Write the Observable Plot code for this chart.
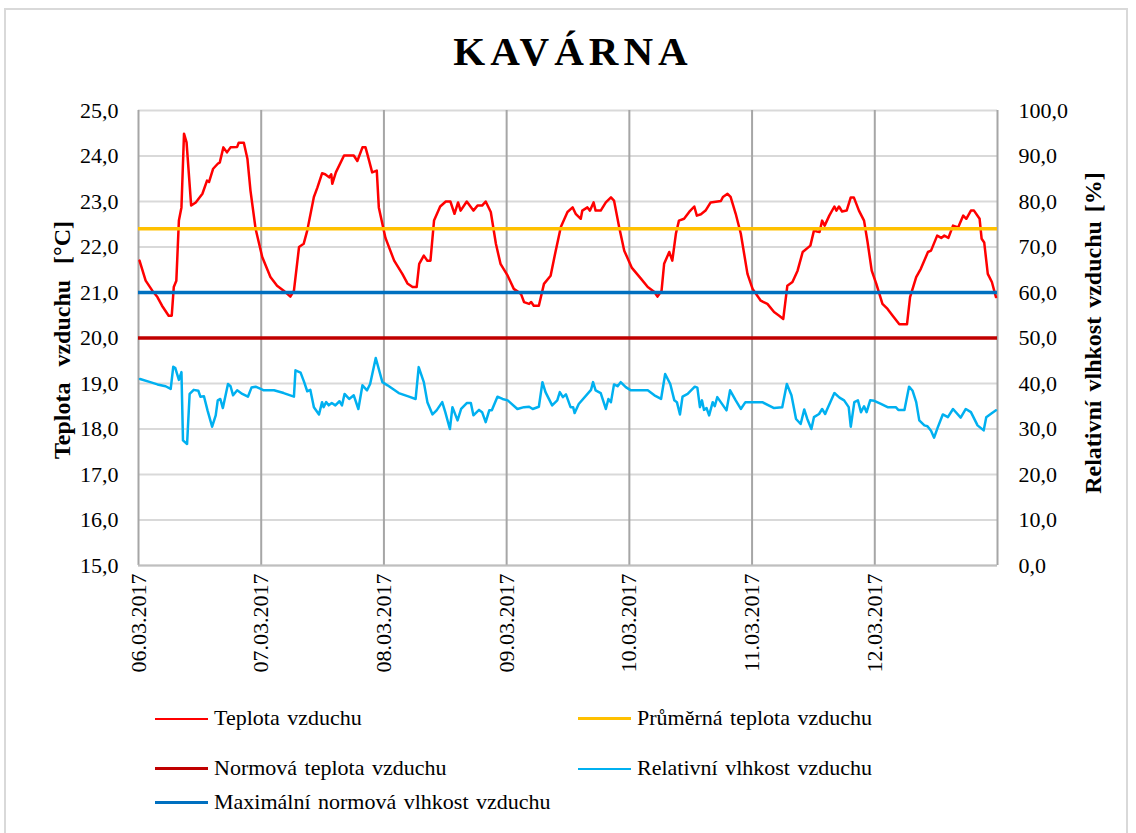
<!DOCTYPE html>
<html>
<head>
<meta charset="utf-8">
<script src="https://cdn.jsdelivr.net/npm/d3@7"></script>
<script src="https://cdn.jsdelivr.net/npm/@observablehq/plot@0.6"></script>
<style>
  html, body { margin: 0; padding: 0; background: #fff; }
  #wrap { position: relative; width: 1136px; height: 833px; overflow: hidden; font-family: "Liberation Serif", "Times New Roman", serif; }
  #border { position: absolute; left: 4px; top: 8px; width: 1124px; height: 900px; border: 2px solid #d9d9d9; box-sizing: border-box; }
  #title { position: absolute; left: 5px; width: 1136px; top: 27px; text-align: center; font-weight: bold; font-size: 41px; letter-spacing: 5px; color: #000; }
  #chart { position: absolute; left: 0; top: 90px; }
  .ytitle { position: absolute; font-weight: bold; font-size: 24px; white-space: nowrap; color: #000; transform: translate(-50%, -50%) rotate(-90deg); }
  .leg { position: absolute; font-size: 22px; word-spacing: 2px; color: #000; white-space: nowrap; }
  .leg span.sw { display: inline-block; width: 53px; height: 0; border-top: 3px solid; vertical-align: middle; margin-right: 6px; position: relative; top: -1px; }
</style>
</head>
<body>
<div id="wrap">
  <div id="border"></div>
  <div id="title">KAVÁRNA</div>
  <div id="chart"></div>
  <div class="ytitle" style="left:62px; top:340px; word-spacing:10px;">Teplota vzduchu [°C]</div>
  <div class="ytitle" style="left:1093px; top:333px; word-spacing:3px;">Relativní vlhkost vzduchu [%]</div>
  <div id="legend"></div>
</div>
<script>
// ---- data ----
const startDate = Date.UTC(2017, 2, 6);
const dayLabels = ["06.03.2017","07.03.2017","08.03.2017","09.03.2017","10.03.2017","11.03.2017","12.03.2017"];
const tempTicks = [15,16,17,18,19,20,21,22,23,24,25];
const rhTicks = [0,10,20,30,40,50,60,70,80,90,100];

const avgTemp = 22.4;
const normTemp = 20.0;
const maxRH = 60;

const tempHours = [0.2,1.4,2.7,3.7,4.6,5.9,6.5,6.9,7.4,7.9,8.4,8.9,9.4,10.3,11.2,12.5,13.4,13.8,14.6,15.5,15.9,16.6,17.3,18.0,19.3,19.6,20.6,21.3,21.9,22.9,24.2,25.8,27.1,28.4,29.7,30.4,31.4,32.3,33.0,34.3,35.0,35.9,36.5,37.3,37.7,37.9,38.6,40.2,42.1,42.8,43.8,44.4,45.1,45.7,46.6,47.0,48.3,50.0,51.6,52.6,53.6,54.4,54.9,55.8,56.5,57.1,57.8,59.0,60.1,61.0,61.8,62.5,63.0,64.2,65.5,66.3,67.2,67.9,68.9,69.9,70.8,72.2,73.4,74.8,75.4,76.4,76.8,77.3,78.3,79.3,80.6,81.6,82.6,83.9,84.9,85.5,86.5,86.8,87.8,88.3,89.0,89.4,90.4,91.4,92.4,93.0,94.0,95.0,96.5,98.3,99.6,100.9,101.5,102.3,102.8,103.8,104.4,105.1,105.7,106.7,107.7,108.7,109.2,110.0,110.9,111.9,113.9,114.3,115.2,115.8,116.8,117.8,119.1,120.1,121.7,123.0,124.3,125.3,126.1,126.9,127.9,128.9,129.9,131.4,132.1,132.7,133.2,133.7,134.2,135.1,136.1,136.5,137.0,137.6,138.5,139.3,139.9,140.9,141.9,142.6,143.4,144.3,145.5,146.5,147.5,148.8,150.3,150.9,152.1,153.0,154.4,155.0,156.2,157.0,157.6,158.4,159.3,160.3,161.3,161.9,162.8,163.4,164.5,164.9,165.4,166.1,166.9,167.7];
const tempValues = [21.70,21.26,21.04,20.90,20.71,20.49,20.49,21.12,21.26,22.58,22.87,24.49,24.30,22.91,22.98,23.17,23.46,23.43,23.72,23.83,23.86,24.19,24.08,24.19,24.20,24.29,24.29,23.94,23.24,22.40,21.78,21.34,21.15,21.04,20.91,21.04,22.00,22.07,22.36,23.10,23.31,23.62,23.60,23.53,23.60,23.39,23.64,24.01,24.01,23.89,24.19,24.19,23.90,23.64,23.68,22.87,22.20,21.70,21.41,21.20,21.12,21.12,21.63,21.81,21.70,21.70,22.58,22.89,23.00,23.00,22.73,22.98,22.80,23.00,22.80,22.91,22.91,23.00,22.77,22.07,21.63,21.37,21.08,20.97,20.79,20.75,20.79,20.71,20.71,21.19,21.37,21.92,22.44,22.77,22.87,22.73,22.62,22.80,22.87,22.80,22.98,22.80,22.80,22.98,23.09,23.02,22.44,21.92,21.54,21.30,21.12,21.01,20.91,21.04,21.63,21.89,21.70,22.29,22.58,22.62,22.77,22.89,22.69,22.72,22.80,22.98,23.01,23.10,23.17,23.10,22.73,22.29,21.41,21.08,20.82,20.75,20.57,20.49,20.42,21.15,21.23,21.48,21.89,22.03,22.36,22.34,22.33,22.58,22.47,22.69,22.89,22.80,22.89,22.78,22.80,23.09,23.09,22.80,22.58,22.10,21.48,21.19,20.75,20.64,20.49,20.30,20.30,20.90,21.34,21.52,21.89,21.92,22.25,22.20,22.25,22.20,22.47,22.43,22.69,22.62,22.80,22.80,22.62,22.18,22.10,21.41,21.23,20.90];

const rhHours = [0.3,2.3,3.7,5.3,6.3,6.8,7.2,7.9,8.4,8.7,9.5,10.0,10.8,11.7,12.1,12.8,13.5,14.4,15.1,15.5,16.0,16.5,17.5,18.0,18.5,19.3,20.3,21.4,22.1,22.9,23.9,24.5,26.5,28.4,30.4,30.7,31.7,32.4,33.0,33.6,34.3,35.3,35.9,36.2,36.7,37.2,37.8,38.5,39.3,39.8,40.3,41.2,42.1,43.0,43.8,44.7,45.3,46.4,47.7,48.7,50.9,52.9,54.2,54.8,55.8,56.5,57.5,58.3,59.4,60.0,60.9,61.4,62.4,63.1,64.2,65.0,65.5,66.6,67.2,67.9,68.6,69.1,70.2,71.2,72.2,74.1,75.4,76.4,77.1,78.3,79.0,79.6,80.9,81.9,82.4,83.0,83.6,84.5,85.0,85.3,86.1,88.5,88.9,89.4,90.4,91.4,91.9,92.4,93.0,93.7,94.3,95.3,96.3,99.6,100.9,102.2,103.0,104.0,104.8,105.3,105.9,106.4,107.4,108.8,109.3,109.8,110.2,110.6,111.1,111.6,112.3,112.7,113.2,115.0,115.7,116.8,117.8,118.7,122.0,124.3,125.9,126.8,127.7,128.6,129.5,130.2,130.8,131.6,132.1,133.1,133.7,134.3,134.6,136.1,137.1,138.0,138.9,139.3,140.0,140.7,141.3,141.9,142.4,143.1,143.9,145.2,146.5,148.1,148.6,149.8,150.7,151.4,152.1,152.7,153.7,154.3,155.0,155.6,156.3,157.3,158.3,159.3,160.8,161.8,162.8,164.1,165.3,165.8,166.8,167.7];
const rhValues = [41.0,40.3,39.8,39.4,38.8,43.7,43.4,40.8,42.5,27.5,26.7,37.7,38.6,38.4,37.1,37.2,34.1,30.5,33.0,36.3,36.6,34.6,39.9,39.4,37.4,38.5,37.7,37.1,39.1,39.3,38.8,38.5,38.5,37.9,37.1,42.9,42.4,40.3,38.3,38.6,34.8,33.2,35.9,34.8,35.9,35.2,35.7,35.2,36.1,35.2,37.7,36.6,37.4,34.4,39.6,38.5,39.9,45.6,40.3,39.6,37.9,37.1,36.6,43.6,40.3,35.9,33.2,34.1,35.9,33.7,30.0,34.8,31.9,34.4,35.7,35.7,33.0,34.2,33.7,31.5,34.1,34.1,37.1,36.6,36.3,34.4,34.8,34.9,34.4,34.9,40.3,38.1,35.2,36.3,38.1,37.0,37.6,34.8,34.8,33.5,35.5,38.6,40.3,38.5,37.9,34.4,36.6,35.9,39.8,39.4,40.3,39.2,38.5,38.5,37.4,36.6,42.1,39.9,36.3,35.9,33.2,37.1,37.7,39.3,39.1,34.8,36.3,34.2,34.6,33.0,35.9,35.0,37.0,34.1,38.5,36.3,34.4,35.9,35.9,34.6,34.8,39.9,37.4,32.2,31.1,34.3,32.2,30.0,32.6,33.3,34.4,33.3,34.1,37.9,36.9,36.3,34.8,30.5,35.9,36.3,33.7,35.0,33.7,36.3,36.2,35.5,34.8,34.8,34.2,34.2,39.3,38.4,35.9,31.9,30.8,30.6,29.6,28.1,30.3,33.2,32.6,34.4,32.5,34.4,33.7,30.8,29.7,32.6,33.4,34.1];

// ---- helpers ----
const HOUR = 3600 * 1000;
const toDate = h => new Date(startDate + h * HOUR);
const fmt = v => v.toFixed(1).replace(".", ",");
// right axis (RH %) mapped onto left scale (°C): 0% -> 15, 100% -> 25
const rhToT = rh => 15 + rh / 10;

const tempData = tempHours.map((h, i) => ({date: toDate(h), v: tempValues[i]}));
const rhData = rhHours.map((h, i) => ({date: toDate(h), v: rhToT(rhValues[i])}));
const dayDates = d3.range(0, 8).map(d => toDate(d * 24));
const tickDates = dayDates.slice(0, 7);

const colors = {
  temp: "#ff0000",
  avg: "#ffc000",
  norm: "#c00000",
  rh: "#00b0f0",
  maxrh: "#0070c0"
};

const chart = Plot.plot({
  width: 1136,
  height: 600,
  marginLeft: 138,
  marginRight: 139,
  marginTop: 20,
  marginBottom: 125,
  style: {fontFamily: "'Liberation Serif', 'Times New Roman', serif", fontSize: "22px", color: "#000", background: "transparent"},
  x: {type: "utc", domain: [dayDates[0], dayDates[7]]},
  y: {domain: [15, 25]},
  marks: [
    Plot.ruleY(tempTicks, {stroke: "#d9d9d9", strokeWidth: 2}),
    Plot.ruleX(dayDates, {stroke: "#a6a6a6", strokeWidth: 2}),
    Plot.ruleY([15], {stroke: "#bfbfbf", strokeWidth: 2}),
    Plot.axisY({anchor: "left", ticks: tempTicks, tickFormat: fmt, tickSize: 0, tickPadding: 20, label: null, fontSize: 22}),
    Plot.axisY({anchor: "right", ticks: rhTicks.map(rhToT), tickFormat: t => fmt(Math.round((t - 15) * 10)), tickSize: 0, tickPadding: 21, label: null, fontSize: 22}),
    Plot.axisX({ticks: tickDates, tickFormat: (d, i) => dayLabels[i], tickRotate: -90, tickSize: 0, tickPadding: 8, label: null, fontSize: 22}),
    Plot.line(tempData, {x: "date", y: "v", stroke: colors.temp, strokeWidth: 2.5, curve: "linear"}),
    Plot.ruleY([avgTemp], {stroke: colors.avg, strokeWidth: 3.5}),
    Plot.ruleY([normTemp], {stroke: colors.norm, strokeWidth: 3.5}),
    Plot.line(rhData, {x: "date", y: "v", stroke: colors.rh, strokeWidth: 2.5}),
    Plot.ruleY([rhToT(maxRH)], {stroke: colors.maxrh, strokeWidth: 3.5})
  ]
});
document.getElementById("chart").appendChild(chart);

// ---- legend ----
const legendItems = [
  {label: "Teplota vzduchu", color: colors.temp, left: 155, top: 718},
  {label: "Průměrná teplota vzduchu", color: colors.avg, left: 578, top: 718},
  {label: "Normová teplota vzduchu", color: colors.norm, left: 155, top: 768},
  {label: "Relativní vlhkost vzduchu", color: colors.rh, left: 578, top: 768},
  {label: "Maximální normová vlhkost vzduchu", color: colors.maxrh, left: 155, top: 802}
];
const leg = document.getElementById("legend");
legendItems.forEach(it => {
  const d = document.createElement("div");
  d.className = "leg";
  d.style.left = it.left + "px";
  d.style.top = (it.top - 13) + "px";
  const sw = document.createElement("span");
  sw.className = "sw";
  sw.style.borderTopColor = it.color;
  if (it.color === colors.temp || it.color === colors.rh) sw.style.borderTopWidth = "2px";
  d.appendChild(sw);
  d.appendChild(document.createTextNode(it.label));
  leg.appendChild(d);
});
</script>
</body>
</html>
